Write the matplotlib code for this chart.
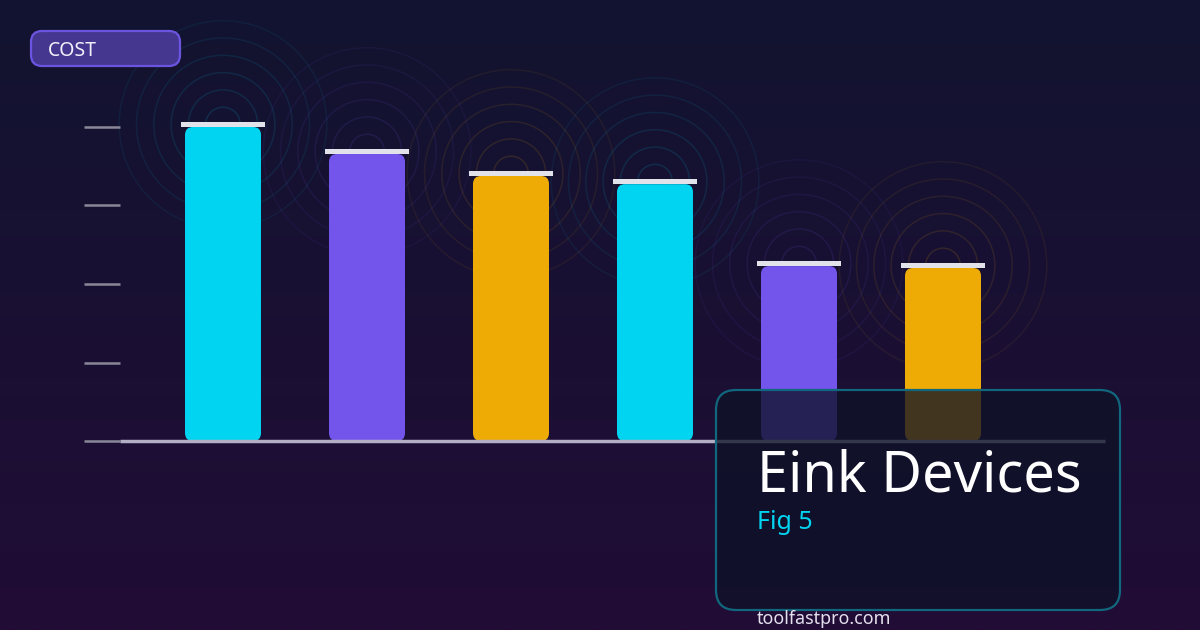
import matplotlib
matplotlib.use("Agg")
import matplotlib.pyplot as plt
import numpy as np
from matplotlib.patches import FancyBboxPatch, Ellipse, Rectangle

plt.rcParams['font.family'] = ['Noto Sans', 'DejaVu Sans']

# ---- data ----
categories = ["1", "2", "3", "4", "5", "6"]
values = [100, 91.4, 84.4, 81.8, 55.7, 55.1]
bar_colors = ["#00d4f0", "#7455ec", "#eeaa05", "#00d4f0", "#7455ec", "#eeaa05"]
tick_values = [0, 25, 50, 75, 100]
badge_text = "COST"
title_text = "Eink Devices"
subtitle_text = "Fig 5"
footer_text = "toolfastpro.com"

W, H = 1200, 630
fig = plt.figure(figsize=(W / 100, H / 100), dpi=100)

# background gradient
bg = fig.add_axes([0, 0, 1, 1])
bg.set_axis_off()
top = np.array([0x12, 0x14, 0x30]) / 255
bot = np.array([0x21, 0x0c, 0x36]) / 255
g = np.linspace(0, 1, 256)[:, None, None]
img = top[None, None, :] + (bot - top)[None, None, :] * g
bg.imshow(img, aspect='auto', extent=[0, 1, 0, 1], origin='upper')
bg.set_xlim(0, 1); bg.set_ylim(0, 1)

# main axes: pixel geometry
x_left_px, x_right_px = 120, 1105
y_base_px, y_top_px = 441, 127
first_center_px, spacing_px = 223, 144
px_per_y = (y_base_px - y_top_px) / 100.0
ax = fig.add_axes([x_left_px / W, (H - y_base_px) / H,
                   (x_right_px - x_left_px) / W, (y_base_px - y_top_px) / H])
ax.set_axis_off()
ax.patch.set_alpha(0)
xmin = -(first_center_px - x_left_px) / spacing_px
xmax = (len(values) - 1) + (x_right_px - (first_center_px + spacing_px * (len(values) - 1))) / spacing_px
ax.set_xlim(xmin, xmax)
ax.set_ylim(0, 100)

bar_w = 76 / spacing_px
cap_w = 84 / spacing_px
cap_h = 5 / px_per_y
aspect = spacing_px / px_per_y

for i, (v, c) in enumerate(zip(values, bar_colors)):
    cy = v + cap_h / 2
    for k in range(1, 7):
        r = 17.3 * k
        ax.add_patch(Ellipse((i, cy), 2 * r / spacing_px, 2 * r / px_per_y,
                             fill=False, ec=c, lw=1.1, alpha=0.15 - 0.014 * k,
                             clip_on=False, zorder=1))

for i, (v, c) in enumerate(zip(values, bar_colors)):
    ax.add_patch(FancyBboxPatch((i - bar_w / 2, 0), bar_w, v,
                                boxstyle="round,pad=0,rounding_size=%f" % (8 / spacing_px),
                                mutation_aspect=aspect, fc=c, ec='none',
                                clip_on=False, zorder=3))
    ax.add_patch(Rectangle((i - cap_w / 2, v), cap_w, cap_h, fc="#e2e2ea",
                           ec='none', clip_on=False, zorder=4))

# tick marks on the left
tick_x0 = xmin - 36 / spacing_px
for t in tick_values:
    ax.plot([tick_x0, xmin], [t, t], color="#8a8898", lw=1.8,
            clip_on=False, zorder=2, solid_capstyle='butt')

# baseline
ax.plot([xmin, xmax], [0, 0], color="#b4aec4", lw=2.5, clip_on=False,
        zorder=5, solid_capstyle='butt')

# overlay in pixel coordinates
ov = fig.add_axes([0, 0, 1, 1])
ov.set_zorder(5)
ov.set_axis_off()
ov.patch.set_alpha(0)
ov.set_xlim(0, W)
ov.set_ylim(H, 0)

ov.add_patch(FancyBboxPatch((31, 31), 149, 35,
                            boxstyle="round,pad=0,rounding_size=11",
                            fc="#45378f", ec="#6b55e0", lw=1.6))
ov.text(48, 55.5, badge_text, color="#f2f0fa", fontsize=14, va='baseline', ha='left')

ov.add_patch(FancyBboxPatch((716, 390), 404, 220,
                            boxstyle="round,pad=0,rounding_size=20",
                            fc=(14 / 255, 18 / 255, 39 / 255, 0.77),
                            ec="#11677d", lw=1.6))
ov.text(757, 491, title_text, color="white", fontsize=40.3, va='baseline', ha='left')
ov.text(757, 529, subtitle_text, color="#00d4f0", fontsize=18, va='baseline', ha='left')
ov.text(757, 624, footer_text, color="#e4e0ee", fontsize=12.9, va='baseline', ha='left')

fig.savefig("out.png", dpi=100)
